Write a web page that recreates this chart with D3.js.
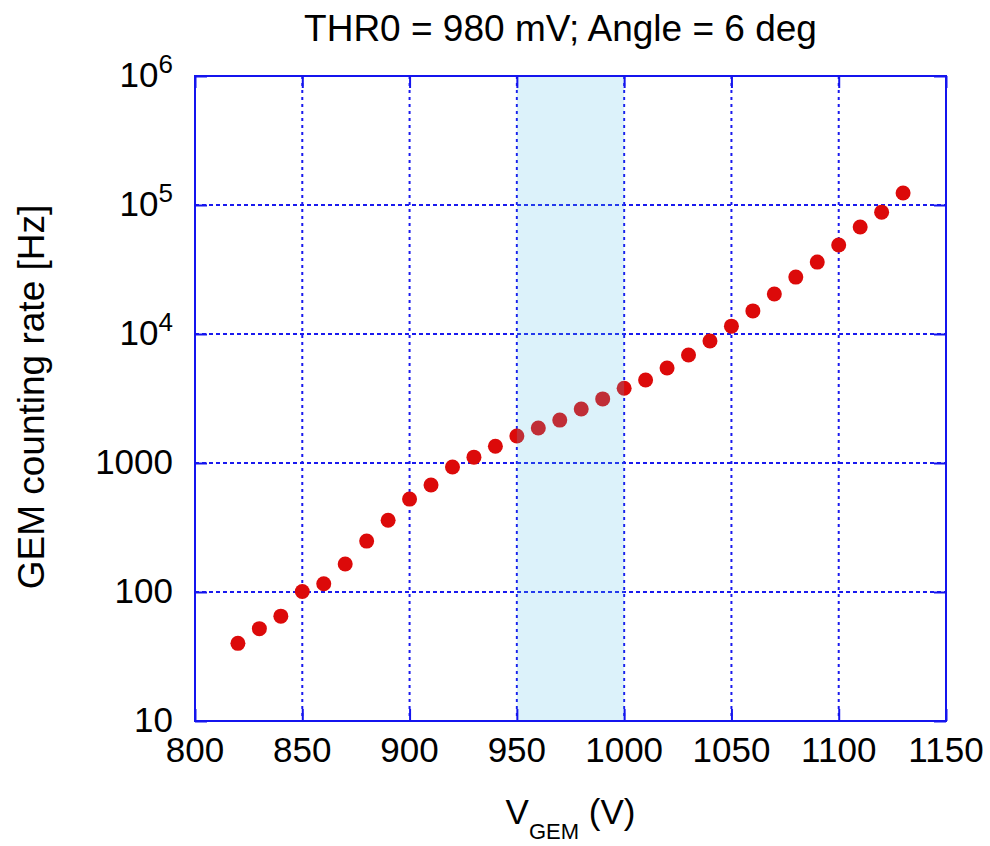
<!DOCTYPE html>
<html>
<head>
<meta charset="utf-8">
<script src="https://cdn.jsdelivr.net/npm/d3@7"></script>
<style>
  body { margin: 0; background: #fff; }
  svg { display: block; }
  text { font-family: "Liberation Sans", Arial, sans-serif; fill: #000; }
</style>
</head>
<body>
<svg id="chart" width="990" height="846"></svg>
<script>
// GEM counting rate versus GEM voltage
const voltages = [820, 830, 840, 850, 860, 870, 880, 890, 900, 910, 920, 930, 940, 950, 960, 970,
                  980, 990, 1000, 1010, 1020, 1030, 1040, 1050, 1060, 1070, 1080, 1090, 1100, 1110, 1120, 1130];
const rates = [40, 52, 65, 101, 116, 165, 248, 360, 525, 675, 930, 1110, 1350, 1620, 1870, 2150,
               2620, 3140, 3800, 4400, 5450, 6870, 8830, 11500, 15100, 20400, 27600, 36100, 49000, 67500, 88000, 124000];

const xTicks = [800, 850, 900, 950, 1000, 1050, 1100, 1150];
const yTicks = [10, 100, 1000, 1e4, 1e5, 1e6];
const yTickBases = ["10", "100", "1000", "10", "10", "10"];
const yTickExponents = ["", "", "", "4", "5", "6"];
const bandRange = [950, 1000];

const titleText = "THR0 = 980 mV; Angle = 6 deg";
const yLabelText = "GEM counting rate [Hz]";

const W = 990, H = 846;
const margin = { left: 195, right: 44, top: 76, bottom: 125 };
const innerW = W - margin.left - margin.right;
const innerH = H - margin.top - margin.bottom;

const frameColor = "#1414ee";
const gridColor = "#1a1aee";
const markerColor = "#dc0a0a";

const svg = d3.select("#chart");
const g = svg.append("g").attr("transform", `translate(${margin.left},${margin.top})`);

const x = d3.scaleLinear().domain([800, 1150]).range([0, innerW]);
const y = d3.scaleLog().domain([10, 1e6]).range([innerH, 0]);

// dotted grid
const grid = g.append("g");
grid.selectAll("line.vg").data(xTicks.slice(1, -1)).join("line")
  .attr("x1", d => x(d)).attr("x2", d => x(d))
  .attr("y1", 0).attr("y2", innerH)
  .attr("stroke", gridColor).attr("stroke-width", 2).attr("stroke-dasharray", "3,4");
grid.selectAll("line.hg").data(yTicks.slice(1, -1)).join("line")
  .attr("x1", 0).attr("x2", innerW)
  .attr("y1", d => y(d)).attr("y2", d => y(d))
  .attr("stroke", gridColor).attr("stroke-width", 2).attr("stroke-dasharray", "4,3");

// data points
g.append("g").selectAll("circle").data(voltages).join("circle")
  .attr("cx", (d) => x(d))
  .attr("cy", (d, i) => y(rates[i]))
  .attr("r", 7.5)
  .attr("fill", markerColor);

// highlighted operating voltage range
g.append("rect")
  .attr("x", x(bandRange[0]))
  .attr("y", 0)
  .attr("width", x(bandRange[1]) - x(bandRange[0]))
  .attr("height", innerH)
  .attr("fill", "rgb(80,190,230)")
  .attr("fill-opacity", 0.2);

// axes with inward ticks on all four sides
const tickLen = 12;
const xAxisB = d3.axisBottom(x).tickValues(xTicks).tickSize(-tickLen).tickFormat("");
const xAxisT = d3.axisTop(x).tickValues(xTicks).tickSize(-tickLen).tickFormat("");
const yAxisL = d3.axisLeft(y).tickValues(yTicks).tickSize(-tickLen).tickFormat("");
const yAxisR = d3.axisRight(y).tickValues(yTicks).tickSize(-tickLen).tickFormat("");

function styleAxis(sel) {
  sel.select(".domain").remove();
  sel.selectAll(".tick line").attr("stroke", frameColor).attr("stroke-width", 2);
}
g.append("g").attr("transform", `translate(0,${innerH})`).call(xAxisB).call(styleAxis);
g.append("g").call(xAxisT).call(styleAxis);
g.append("g").call(yAxisL).call(styleAxis);
g.append("g").attr("transform", `translate(${innerW},0)`).call(yAxisR).call(styleAxis);

// frame
g.append("rect")
  .attr("x", 0).attr("y", 0).attr("width", innerW).attr("height", innerH)
  .attr("fill", "none").attr("stroke", frameColor).attr("stroke-width", 2);

// x tick labels
g.append("g").selectAll("text").data(xTicks).join("text")
  .attr("x", d => x(d))
  .attr("y", innerH + 41)
  .attr("text-anchor", "middle")
  .attr("font-size", 35)
  .text(d => d);

// y tick labels (powers of ten as superscripts)
const yl = g.append("g").selectAll("text").data(yTicks).join("text")
  .attr("x", -22)
  .attr("y", d => y(d) + 11)
  .attr("text-anchor", "end")
  .attr("font-size", 35);
yl.append("tspan").text((d, i) => yTickBases[i]);
yl.append("tspan")
  .attr("dy", (d, i) => yTickExponents[i] ? -14 : 0)
  .attr("font-size", 26)
  .text((d, i) => yTickExponents[i]);

// title
svg.append("text")
  .attr("x", margin.left + innerW / 2 - 10)
  .attr("y", 41)
  .attr("text-anchor", "middle")
  .attr("font-size", 37)
  .text(titleText);

// x axis label: V_GEM (V)
const xl = svg.append("text")
  .attr("x", margin.left + innerW / 2)
  .attr("y", 824)
  .attr("text-anchor", "middle")
  .attr("font-size", 35);
xl.append("tspan").text("V");
xl.append("tspan").attr("dy", 15).attr("font-size", 22).text("GEM");
xl.append("tspan").attr("dy", -15).text(" (V)");

// y axis label
svg.append("text")
  .attr("transform", `translate(44,397) rotate(-90)`)
  .attr("text-anchor", "middle")
  .attr("font-size", 37)
  .text(yLabelText);
</script>
</body>
</html>
